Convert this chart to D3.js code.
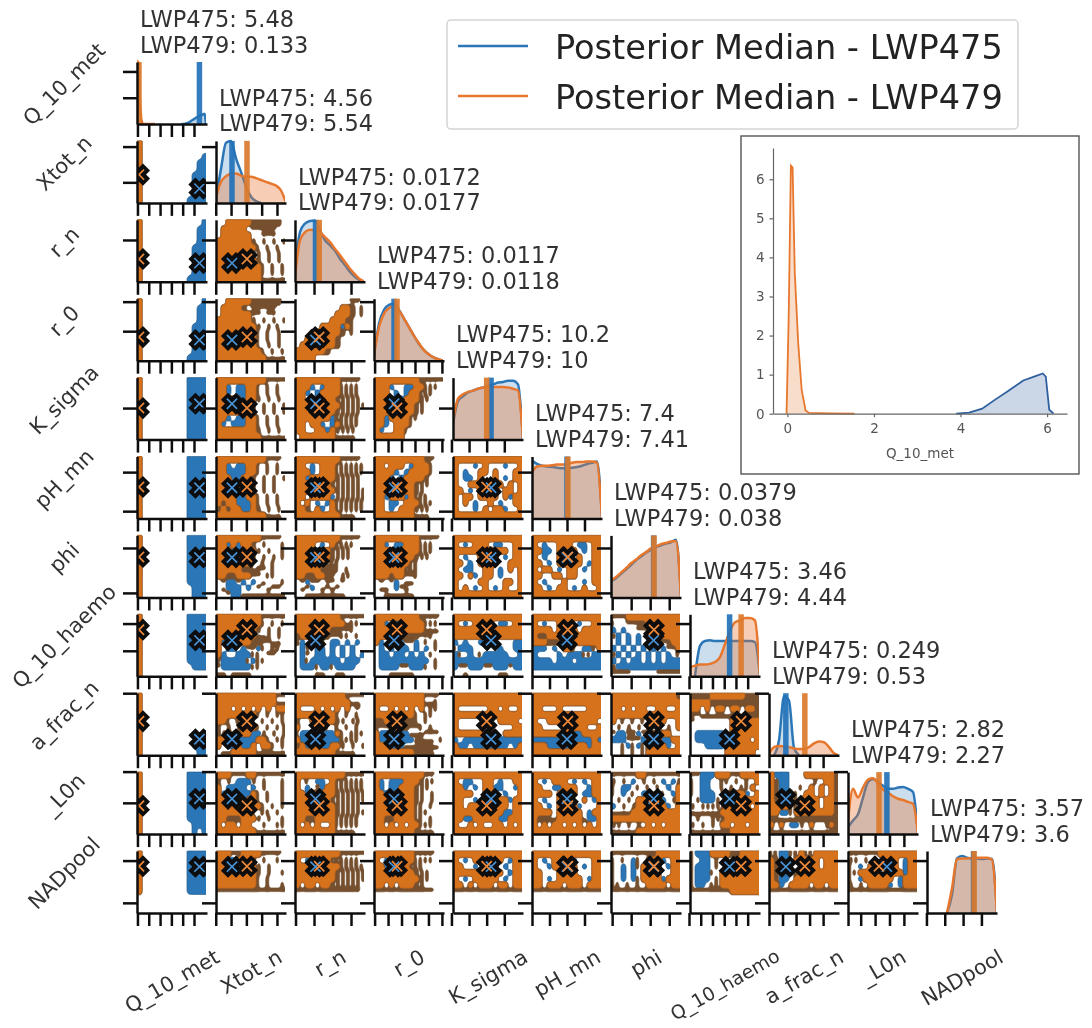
<!DOCTYPE html>
<meta charset="utf-8">
<style>
body { margin: 0; background: #fff; }
text { font-family: "DejaVu Sans", sans-serif; fill: #333; }
.spine path, .spine line { stroke: #111; stroke-width: 2.5; }
.inset path, .inset line { stroke: #666; stroke-width: 1.2; }
.inset text { fill: #555; font-size: 13.5px; font-family: "DejaVu Sans", sans-serif; }
</style>
<body>
<svg width="1092" height="1028"></svg>
<script src="https://d3js.org/d3.v7.min.js"></script>
<script>

var varNames = ["Q_10_met", "Xtot_n", "r_n", "r_0", "K_sigma", "pH_mn", "phi", "Q_10_haemo", "a_frac_n", "_L0n", "NADpool"];
var median475 = [5.48, 4.56, 0.0172, 0.0117, 10.2, 7.4, 0.0379, 3.46, 0.249, 2.82, 3.57];
var median479 = [0.133, 5.54, 0.0177, 0.0118, 10, 7.41, 0.038, 4.44, 0.53, 2.27, 3.6];

// axis ranges: value at left/right of a column, at bottom/top of a row
var xDomains = [[-0.04, 6.15], [3.515, 8.09], [0.01443, 0.02389], [0.01103, 0.01337], [8.47, 11.65], [7.0, 7.8],
  [0.0267, 0.0451], [0.085, 6.05], [0, 1.035], [0.118, 4.98], [1.03, 4.85]];
var yDomains = [[0, 5.9], [3.56, 7.9], [0.01494, 0.02244], [0.011, 0.0131], [8.55, 11.4], [7.006, 7.8],
  [0.029, 0.0428], [0.16, 5.85], [0, 0.97], [0, 4.96], [0.28, 4.68]];
var xTicks = [[0, 1, 2, 3, 4, 5], [3.5, 4.5, 5.5, 6.5, 7.5], [0.0145, 0.017, 0.0195, 0.022],
  [0.01105, 0.0115, 0.01195, 0.0124, 0.01285, 0.0133], [8.4, 9.2, 10, 10.8], [7, 7.2, 7.4, 7.6],
  [0.027, 0.032, 0.037, 0.042], [0, 1, 2, 3, 4, 5], [0, 0.2, 0.4, 0.6, 0.8], [0.12, 1, 2, 3, 4], [1, 2, 3, 4]];
var yTicks = [[2.5, 5], [5, 7.5], [0.02], [0.012, 0.013], [10], [7.1, 7.6], [0.03, 0.04], [2.5, 5], [0.97], [2.5, 5], [1, 4]];

// Q_10_met densities, also used for the inset
var metX475 = [3.9, 4.2, 4.5, 4.8, 5.1, 5.45, 5.7, 5.9, 5.97, 6.05, 6.15];
var metY475 = [0, 0.03, 0.13, 0.36, 0.58, 0.85, 0.95, 1.03, 0.95, 0.1, 0];
var metX479 = [-0.02, 0.03, 0.08, 0.12, 0.17, 0.25, 0.33, 0.42, 0.5, 1, 1.55];
var metY479 = [0, 2.5, 6.35, 6.3, 3.6, 1.8, 0.6, 0.08, 0.02, 0.01, 0];

// relative densities on the diagonal, 15 even steps over the column's range
var kde475 = [null,
  [.05, .55, .97, 1, .72, .5, .27, .1, .03, 0, 0, 0, 0, 0, 0],
  [.2, .8, .94, .98, .99, .83, .67, .59, .5, .37, .27, .16, .08, .02, 0],
  [.08, .6, .82, .9, .92, .82, .68, .54, .4, .27, .17, .1, .05, .02, 0],
  [.25, .62, .7, .76, .79, .82, .84, .87, .89, .92, .93, .95, .95, .89, 0],
  [.93, .88, .85, .84, .83, .82, .81, .81, .82, .83, .85, .88, .9, .92, 0],
  [.26, .31, .38, .45, .52, .6, .66, .72, .77, .81, .84, .87, .89, .93, 0],
  [0, 0, .49, .57, .58, .57, .57, .57, .57, .57, .57, .57, .57, .55, 0],
  [0, 0, .24, .95, .88, .12, 0, 0, 0, 0, 0, 0, 0, 0, 0],
  [.11, .22, .32, .59, .84, .89, .84, .78, .73, .73, .75, .76, .73, .68, 0],
  [0, 0, 0, 0, 0, .3, .88, .92, .89, .88, .88, .87, .88, .87, 0]];
var kde479 = [null,
  [.09, .34, .43, .47, .475, .44, .42, .42, .4, .37, .34, .31, .28, .2, 0],
  [.08, .67, .8, .84, .83, .8, .72, .64, .53, .43, .32, .21, .12, .04, 0],
  [.1, .54, .76, .85, .88, .81, .68, .54, .4, .28, .17, .1, .05, .02, 0],
  [.3, .66, .73, .77, .79, .82, .84, .85, .85, .85, .85, .84, .82, .79, 0],
  [.75, .84, .85, .85, .86, .87, .87, .88, .9, .91, .91, .92, .92, .9, 0],
  [.28, .33, .4, .47, .55, .61, .68, .73, .79, .82, .86, .88, .9, .91, 0],
  [.15, .17, .19, .19, .2, .23, .31, .52, .73, .87, .9, .94, .94, .9, 0],
  [.02, .13, .15, .14, .13, .11, .1, .1, .13, .19, .22, .21, .13, .03, 0],
  [.22, .73, .59, .75, .88, .9, .82, .72, .67, .61, .57, .55, .52, .49, 0],
  [0, 0, 0, 0, 0, .4, .87, .88, .88, .89, .89, .89, .89, .86, 0]];

// contour cells, top row first.
// . empty, o orange, b blue, d brown; thin brown lines: s left, z right, h top, u bottom of the cell
var pairRow1 = [
  "o............. o............. o............b o...........bb o...........bb o..........bbb o..........bbb o..........bbb o..........bbb o.........bbbb"];
var pairRow2 = [
  "o............b o...........bb o...........bb o...........bb o..........bbb o..........bbb o..........bbb o..........bbb o..........bbb o.........bbbb",
  "..ooooodddddd. .ooooo.hhhhh.. .oooooo..hhh.. oooooooz.z.z.z oooooooos.s.s. ooooooobz.z.z. ooooooooz.z.z. ooooooooos.s.s ooooooooos.s.s ooooooooouuuuu"];
var pairRow3 = [
  "o............b o...........bb o...........bb o...........bb o..........bbb o..........bbb o..........bbb o..........bbb o..........bbb o.........bbbb",
  "..ooooodddddd. .ooood.hhhhh.. .oooooohh.hh.. oooooooz.z.z.z ooooooooz.z.s. oooooooos.s.z. oooooooos.s.z. oooooooos.z.z. ooooooooos.s.s oooooooooouuuu",
  "...........hh. .........ood.s ........oood.s .......ooods.. .....oooobos.. ...ooooood.s.. ..ooooood..... .oooooood..... ooooood....... oooo.........."];
var pairRow4 = [
  "o.........bbbb o.........bbbb o.........bbbb o.........bbbb o.........bbbb o.........bbbb o.........bbbb o.........bbbb o.........bbbb o.........bbbb",
  "oooooooooohhhh oob.bboos.s.s. oob.bboos.s.s. ooooobooz.z.z. oooooooz.z.z.z oooooooz.z.z.z oob.bboos.s.s. ob.bbboos.s.s. ooooooooz.z.z. ooooooooouuuuu",
  "ooooooooohhhh. ooob.booossss. oob.boooossss. oo.boooozzzzz. ooooooooozzzzz oooooooozzzzz. ooooooobsssss. oo.oob.bossss. oo..oobozzzz.. .ooooooouuuu..",
  "ooooooooohhhhh ooob..bboosss. ooo.b.boosss.. oooobbooozz... oooooooozz.... ooob.ooozz.... oobooooss..... oob.ooos...... ob..oos....... oooooo........"];
var pairRow5 = [
  "o.........bbbb o.........bbbb o.........bbbb o.........bbbb o.........bbbb o.........bbbb o.........bbbb o.........bbbb o.........bbbb o.........bbbb",
  "oooooooooohhh. oob.bboos.s.s. oobbbboos.s.s. ooobbooz.z.z.z oooooooz.z.z.. oooooooz.z.z.. oooobboos.s.s. ozoobbbos.s.s. zozoobboz.z.z. oooooooooouuu.",
  "ooooooooohhhh. oo.b.ooossssss ooob.ooossssss oobooooozzzzz. ooooooozzzzzz. oooooooozzzzzz oo.oooobzzzzzz o.o.b.bossssss ood.ob.ossssss ooooooooouuu..",
  "oooooooooohh.. oo.ooo.booos.. oooob.boooos.. ooob.booooz... oooooooozzz... oooooooozz.... oobooobosss... oo.bb.ooosss.. oo.b.ooozzz... oooooooouuu...",
  "oooooooooooooo o...b.o...b..o o.b..oo.o...oo o.bb.o..o.b.oo o..ooooooo.o.o oo.b.oooo.oo.o o.oo.oooo.oboo o.o.b..o.b..oo o...b.o.oob..o oooooooooooooo"];
var pairRow6 = [
  "o.........bbbb o.........bbbb o.........bbbb o.........bbbb o.........bbbb o.........bbbb o.........bbbb o.........bbbb o..........bbb o..........bbb",
  "ooooooooohhhh. oobobooz.z...s ooobbbooz.z..s oooooooz.z.z.s ooooooos.s.s.. ooooouuuhh.s.. oouuooohh.ss.. .hbbhb.b.u...s .ubbb.b.h.uhh. ..hbbuuuuuuuuu",
  "ooooooooohhhh. oooo.b.ossss.. ooobboozzzz... ooooooozzzz... oooooosss..... ooooohhhs.s... oouuoohh.zz... .hbhh.hh.h.... .uhb.uhuh..... ..uuuuuuuu....",
  "ooooooooohhhh. oob.bbooosss.. ooooboooosss.. oooooooozzz... oooooooss..... oooooosss..... ooohoohhs..... .h.hb.uu...... .uu.bhu....... ..uuuuuu......",
  "oooooooooooooo o.b.ooo.bb..oo ooooooooooo.oo o.b..oooo.b.oo oo.b.oooo..ooo o.bb..oo.b.o.o oo.ob.oo.b...o o....oo...oo.o o.o.b.o.b.o..o oooooooooooooo",
  "oooooooooooooo o.b..ooo.bb.oo oobb.oooo.b.oo o.b..ooo.o..oo oo.b.ooooo.boo o.oo.b.oo.b.oo oo..oo.oo...oo o.b...o...b.oo oo.b.oo.b.o..o oooooooooooooo"];
var pairRow7 = [
  "o.........bbbb o.........bbbb o.........bbbb o.........bbbb o.........bbbb o.........bbbb o.........bbbb o.........bbbb o..........bbb o.............",
  "ooooooooohhhhh ooooooooos.s.s ooooooooz.z.z. oooooooouuz.z. ob.booouuhhuu. o.bb.bhhbs.ss. ob..bbbss.hh.. hbbbbbsbss.... hbbbbbbss..... uu.uuuu.......",
  "ooooooooohhhhh oooooooooouss. ooooooouuhhs.. uoooouuhhss.s. ub.uuu.bb.b.b. .bh.bb.b.b.b.. .bh.bb.b.b.b.b .bsbbbbbb.bbb. .bbbsbbsbbbb.. ....uu..uu....",
  "ooooooooohhhh. oob.bboooosss. oooooooooouuu. oooooouuuhhs.. ob.oobhhb.s.s. .b.b.bb.b.b.s. .bb.bb.b.b.s.. .bbbbbbbbbb.s. .bbbbhhbbbs.s. ...uuuuu......",
  "oooooooooooooo o.b.oooo.bb.oo oooooooooooooo oooooooooooooo b.b..bb.....bb sbbb.....b..bb bs.b.sbbbbb..b bbbbbbbbbbbbbb bhhbbbhhbbbhbb ..u......uu...",
  "oooooooooooooo o.b..ooo.b..oo oooo.oooo.oooo ouuooooooooooo ooouuuoooooooo bbb.b.oos.bbso b....b.bbbssbb bbbb.bbb.bbbbb bbbbbbbbbbbbbb ..............",
  "hhhooooooooooo s..hhhhooooooo b.b..hhhoooooo zb.b.b.hhhoooo .b.b.b.b.hhhoo b.b.b.b.b.bhho zb.b.b.b.b.b.s b.b.bb.b.b.bbb zbbbbbbbbbbbbb hhhh.....hhhhh"];
var pairRow8 = [
  "o............. o............. o............. o............. o............. o............. o............b o...........bb o..........bbb o...........bb",
  "oooooooooooohh oooooooooooouu ooo.o.o.o.o.oo oooooooos.s.ss oos.soos.s.s.s z.z.zooos.s.sz zzozzoobbz.z.z oobbbbbboos.ss o.bbobbo.oos.s .uuooooouuuuuu",
  "oooooooooohhhh ooooooooooouu. o...o.o.o.o.h. oooooooos.s.s. z..ooooozz.zz. o...oos.s.s.s. sbbbbbbbos.sss obbbbbbbbssss. zob.obbooz.z.z oooooooouuuu..",
  "oooooooooohhh. oooooooooouus. o..o.o.o.o.ss. oooooooos.ss.. hhoooouus.s... hhhoouuhhs.s.. obbbbbbuuuhhh. obbbbbbbuuuu.s ooobbbuuuuuuu. oooooooouuuu..",
  "oooooooooooooo oooooooooooooo o......oo.o..o oooooooooooooo o........oooo. o...........oo ooooooooo.oooo b.bbbbb.bbbbbb obb.bbbbbbb.bo oooooooooooooo",
  "oooooooooooooo oooooooooooooo oo...o.....ooo oooooooooooooo o..oooooooooo. oo.....oooo..o oooooooobboooo bbbbbbbbbbbbob ooobbbbboooboo oooooooooooooo",
  "oooooooooooooh oooooooooooooo oo.o.oo..oo..o oooooooooooooo o.s.s.s.s.o..o .z.z.z.z.z.z.o hbbhhbhhhhoo.. bbbhhhbhhobboo ..sbsbssooob.o ..s.s.sooooooo",
  "ddddoooooooddd oooodddddddddd oo.o.oo.oo.ood hhuuuuuuuuuuuh h.......ooooood ........ooooood .bbbbbb.oooooo .bbbbbbboooo.o ...bbbbooooooo .......oooooo."];
var pairRow9 = [
  "o.........bbbb o.........bbbb o.........bbbb o.........bbbb o.........bbbb o.........bbbb o.........bbbb o.........bbbb o..........bbb o..........b.b",
  "ooohhhoohhhhhh z.z.bbbz.z...s o.bbbb.b.z...s ob.bbbbos.s..s oooobboos.s..s ooooooooos.s.s ooooooos.ss.s. oouuuoooz.z..s o.oo.oo..z..ss oooooooouuuuuu",
  "oooooooooohhhh o.s.bb.ossssss o.b.hboossssss oobooooozzzzzz ooooooozzzzzzz oooooooozzzzz. oooooooozzzzzz oouuoooosssss. o.o.o..osssss. oooooooouuuu..",
  "oooooooooohh.. ob.bbbooozzz.. ob.bbooozzz... oobboooozz.z.. oooooooozz.z.. ooooooooss.s.. oooooooosss... oouuooooss.s.. oo.o.o.oosss.. oooooooouuuu..",
  "oooooooooooooo o.bb..oo.b..oo oob.b.oobb..bo oooo..ooo.b..o oo..b.oooooboo oo.oooooooo.oo oooooooooobboo oobbooooobbooo o..o.o..oo.o.o oooooooooooooo",
  "oooooooooooooo o.b.ooo.b.b.oo oo..bbooo..boo oooo.oooo.bboo o.b..oo...o.bo oo.b.oooob...o oooo.ooooo.boo ouuuuoooooubbo o.o.oo.o.o.o.o oooooooooooooo",
  "hhhhhoohhhhhhh z.z.b.z.z.b.bz s.bb.s.s.s.b.o s.b.s.bb.bs.bo .z.z.ooooob.zo b.z.zoo.ooob.o uuuuoooooooooo oooooooooooooo zz.z.z.o.o.ooo uuuuuooooooooo",
  "hhbbbooohhoooo s.bb..ss.s.s.o s.bb..s.s.sso. s.bbb.zzooob.o .zbbbz.zzooooo z.zzzzzooooo.o uuuuuuoooooooo .z..zzzooooooo z.z.z.oo.oo.oo uuuuuuuuoooooo",
  "obbb...ooooood ozbb.....s.ood ozbb..s.o.o.od ozbb.s.oo.o.od ozbbssoooo.ood oooosssooo.ood oobbsooooooood uuuuuuuuuuuuuu o.o.bbz.o..zod uuuuuuuuuuuuuu"];
var pairRow10 = [
  "o.........bbbb o.........bbbb o.........bbbb o.........bbbb o.........bbbb o.........bbbb o.........bbbb",
  "ooohhoooohhhh. oobboooz.z..s. ooobboooz.z... ooooooooz.z..s oooooooos.s... oooooooos.s..s hhhhhhhhhhhhhh",
  "ooooooooohhhhh o.b.ooossssss. ooooooooosssss oooooooozzzzzz oooooooozzzzzz o.oo.oozzzzzz. hhhhhhhhhhhhh.",
  "oooooooohhhh.. o.booooossss.. oob.ooosss.... oooooooozzz... ooooooooozz... oo.o.ooozz.... hhhhhhhhhhhh..",
  "oooooooooooooo o.b.ooo..o.boo oo..b.ooo.b.oo oooooooooo.boo o.b.ooooo.b.oo oo.o.ooo.oo.oo hhhhhhhhhhhhhh",
  "oooooooooooooo o.b.ooo.b...oo o..booooo.b.oo oo...oooo...oo oo.b.ooooo.boo oo.ooo.ooo.ooo hhhhhhhhhhhhhh",
  "hhhhhhhhhooooo s.s.bs.ooob.oo s.b.bsoooo.boo s.b.b.oooo..oo s.b.bsoooobooo ss.s.s.oooo.oo hhhhhhhhhhhhhh",
  "sbbbooooddoooo s.bb.s.s.ooooo sbbb.s.ooooooo sbbbs.oooooooo sbbb.soooooooo sbb.ssoooooooo hhhhhhhhoooooo",
  "ssbbssossooooo ozbb.ooooo.ooo ozbb..oooo.ooo ozbbbsoooooooo ozbb.ooooooooo oob.oooo.oo.oo hhhhhhhhhhhhhh",
  "hhhhhhoooooooo zz.z.b.ooo.boo s.b.oooooo.boo ssooooooooobooo s.boooooo.booo z.z.oooob.booo hhhhhhhhhhhhhh"];
var pairRows = [[], pairRow1, pairRow2, pairRow3, pairRow4, pairRow5, pairRow6, pairRow7, pairRow8, pairRow9, pairRow10];

var colBlue = "#2b76b6", colOrange = "#e8772e", colFill = "#d6711d", colBrown = "#74502f", colBlueLine = "#285f8f";

var svg = d3.select("svg");
var root = svg.append("g").attr("filter", "url(#soft)");
var defs = svg.append("defs");
defs.append("filter").attr("id", "soft").attr("filterUnits", "userSpaceOnUse")
  .attr("x", 0).attr("y", 0).attr("width", 1092).attr("height", 1028)
  .append("feGaussianBlur").attr("stdDeviation", 0.45);

var colStep = 79, rowStep = 78.9, panelW = 70, panelH = 62;
var colLeft = function(j) { return 137 + j * colStep; };
var rowBottom = function(i) { return 124 + i * rowStep; };

var xScales = varNames.map(function(d, j) {
  return d3.scaleLinear().domain(xDomains[j]).range([colLeft(j), colLeft(j) + panelW]);
});
var yScales = varNames.map(function(d, i) {
  return d3.scaleLinear().domain(yDomains[i]).range([rowBottom(i), rowBottom(i) - panelH]);
});

// one clip per column, so markers get cut at the axes like the original
varNames.forEach(function(d, j) {
  defs.append("clipPath").attr("id", "col" + j).append("rect")
    .attr("x", colLeft(j)).attr("y", 0).attr("width", panelW - 1).attr("height", 1028);
});

// which part of a 6x6 cell each code covers; s and z share a column so wavy lines stay joined
var cellMask = {
  o: function() { return 1; }, b: function() { return 1; }, d: function() { return 1; },
  s: function(u, v) { return u < 3 ? 1 : 0; },
  z: function(u, v) { return u >= 2 && u < 5 ? 1 : 0; },
  h: function(u, v) { return v < 3 ? 1 : 0; },
  u: function(u, v) { return v >= 3 ? 1 : 0; }
};

// contour a cell grid: the cells matching chars become 1, get blurred, then traced
function traceCells(cells, chars, level, rx, ry, sx, sy) {
  var up = 6, nx = 14, ny = 10, w = nx * up, h = ny * up;
  var data = new Float64Array(w * h);
  for (var yy = 0; yy < h; yy++) for (var xx = 0; xx < w; xx++) {
    var row = cells[Math.floor(yy / up)] || "";
    var c = row[Math.floor(xx / up)] || ".";
    data[yy * w + xx] = chars.indexOf(c) >= 0 ? cellMask[c](xx % up, yy % up) : 0;
  }
  d3.blur2({data: data, width: w, height: h}, rx, ry);
  var contours = d3.contours().size([w, h]).thresholds([level])(data);
  var gx = d3.scaleLinear().domain([0, w]).range(sx.range());
  var gy = d3.scaleLinear().domain([0, h]).range([sy.range()[1], sy.range()[0]]);
  var path = d3.geoPath(d3.geoTransform({point: function(x, y) { this.stream.point(gx(x), gy(y)); }}));
  return path(contours[0]) || "";
}

// pair panels
d3.range(1, 11).forEach(function(i) {
  d3.range(0, i).forEach(function(j) {
    var cells = pairRows[i][j].split(" ");
    var g = root.append("g").attr("clip-path", "url(#col" + j + ")");
    g.append("path").attr("d", traceCells(cells, "b", 0.5, 1.4, 1.4, xScales[j], yScales[i]))
      .attr("fill", colBlue).attr("stroke", colBlueLine).attr("stroke-width", 0.8);
    g.append("path").attr("d", traceCells(cells, "odszhu", 0.4, 0.7, 1.3, xScales[j], yScales[i]))
      .attr("fill", colBrown).attr("stroke", colBrown).attr("stroke-width", 0.7);
    g.append("path").attr("d", traceCells(cells, "o", 0.5, 1.3, 1.3, xScales[j], yScales[i]))
      .attr("fill", colFill).attr("stroke", "#b8651f").attr("stroke-width", 0.8);
    g.selectAll(".mark").data([median475, median479]).enter().append("path")
      .attr("transform", function(d) { return "translate(" + xScales[j](d[j]) + "," + yScales[i](d[i]) + ")"; })
      .attr("d", d3.symbol().type(d3.symbolX).size(150))
      .attr("stroke", "#0b0b0b").attr("stroke-width", 10).attr("fill", "none");
    g.selectAll(".mark2").data([[median475, "#4a93d6"], [median479, "#f08a3a"]]).enter().append("path")
      .attr("transform", function(d) { return "translate(" + xScales[j](d[0][j]) + "," + yScales[i](d[0][i]) + ")"; })
      .attr("d", d3.symbol().type(d3.symbolX).size(70))
      .attr("stroke", function(d) { return d[1]; }).attr("stroke-width", 1.7).attr("fill", "none");
  });
});

// diagonal densities
varNames.forEach(function(name, k) {
  var x = xScales[k];
  var g = root.append("g").attr("clip-path", "url(#col" + k + ")");
  if (k === 0) {
    var y0 = d3.scaleLinear().domain([0, 6.4]).range([rowBottom(0), rowBottom(0) - panelH]);
    var line0 = d3.line().x(function(d) { return x(d[0]); }).y(function(d) { return y0(d[1]); });
    var area0 = d3.area().x(function(d) { return x(d[0]); }).y0(y0(0)).y1(function(d) { return y0(d[1]); });
    [[d3.zip(metX475, metY475), colBlue], [d3.zip(metX479, metY479), colOrange]].forEach(function(s) {
      g.append("path").attr("d", area0(s[0])).attr("fill", s[1]).attr("fill-opacity", 0.3);
      g.append("path").attr("d", line0(s[0])).attr("fill", "none").attr("stroke", s[1]).attr("stroke-width", 2.5);
    });
  } else {
    var y = d3.scaleLinear().domain([0, 1]).range([rowBottom(k), rowBottom(k) - panelH]);
    var stepX = d3.scaleLinear().domain([0, 14]).range(xDomains[k]);
    var line = d3.line().curve(d3.curveMonotoneX)
      .defined(function(d, n, a) { return d > 0 || a[n - 1] > 0 || a[n + 1] > 0; })
      .x(function(d, n) { return x(stepX(n)); }).y(function(d) { return y(d); });
    var area = d3.area().curve(d3.curveMonotoneX).x(function(d, n) { return x(stepX(n)); }).y0(y(0)).y1(function(d) { return y(d); });
    [[kde475[k], colBlue, 0.24], [kde479[k], colOrange, 0.36]].forEach(function(s) {
      g.append("path").attr("d", area(s[0])).attr("fill", s[1]).attr("fill-opacity", s[2]);
      g.append("path").attr("d", line(s[0])).attr("fill", "none").attr("stroke", s[1]).attr("stroke-width", 2.5);
    });
  }
  [[median475[k], "#2272b8"], [median479[k], "#dc7a2c"]].forEach(function(m) {
    g.append("line").attr("x1", x(m[0])).attr("x2", x(m[0]))
      .attr("y1", rowBottom(k)).attr("y2", rowBottom(k) - panelH)
      .attr("stroke", m[1]).attr("stroke-width", 5.5).attr("stroke-opacity", 0.93);
  });
  root.append("text").attr("x", colLeft(k) + 3).attr("y", 26.7 + k * rowStep)
    .style("font-size", "22.5px").text("LWP475: " + median475[k]);
  root.append("text").attr("x", colLeft(k) + 3).attr("y", 52.5 + k * rowStep)
    .style("font-size", "22.5px").text("LWP479: " + median479[k]);
});

// spines and ticks for every panel
d3.range(0, 11).forEach(function(i) {
  d3.range(0, i + 1).forEach(function(j) {
    root.append("g").attr("class", "spine").attr("transform", "translate(0," + rowBottom(i) + ")")
      .call(d3.axisBottom(xScales[j]).tickValues(xTicks[j]).tickSize(13).tickSizeOuter(0).tickFormat(""));
    root.append("g").attr("class", "spine").attr("transform", "translate(" + colLeft(j) + ",0)")
      .call(d3.axisLeft(yScales[i]).tickValues(yTicks[i]).tickSize(14).tickSizeOuter(0).tickFormat(""));
  });
});

// variable labels
varNames.forEach(function(name, k) {
  root.append("text").attr("text-anchor", "middle").attr("dy", "0.35em")
    .attr("transform", "translate(64," + (rowBottom(k) - 40) + ") rotate(-45)")
    .style("font-size", "21px").text(name);
  // the longest one would run off the bottom edge at full size
  var size = name === "Q_10_haemo" ? 18.8 : 20.8;
  var t = root.append("text").attr("text-anchor", "middle").attr("dy", "0.35em").style("font-size", size + "px").text(name);
  var half = t.node().getComputedTextLength() / 2 * Math.sin(Math.PI / 6) + size * 0.43;
  t.attr("transform", "translate(" + (colLeft(k) + 35) + "," + (946 + half) + ") rotate(-30)");
});

// legend
root.append("rect").attr("x", 447).attr("y", 20).attr("width", 571).attr("height", 109).attr("rx", 4)
  .attr("fill", "#fff").attr("stroke", "#d4d4d4").attr("stroke-width", 1.5);
[["Posterior Median - LWP475", colBlue], ["Posterior Median - LWP479", colOrange]].forEach(function(d, n) {
  root.append("line").attr("x1", 458).attr("x2", 528).attr("y1", 46 + n * 50).attr("y2", 46 + n * 50)
    .attr("stroke", d[1]).attr("stroke-width", 2.5);
  root.append("text").attr("x", 555).attr("y", 59 + n * 50).style("font-size", "33.6px").style("fill", "#222").text(d[0]);
});

// inset
root.append("rect").attr("x", 741).attr("y", 136).attr("width", 338).attr("height", 338)
  .attr("fill", "#fff").attr("stroke", "#555").attr("stroke-width", 1.4);
var insetX = d3.scaleLinear().domain([-0.333, 6.46]).range([773, 1067]);
var insetY = d3.scaleLinear().domain([0, 6.8]).range([413.7, 148]);
var insetLine = d3.line().x(function(d) { return insetX(d[0]); }).y(function(d) { return insetY(d[1]); });
var insetArea = d3.area().x(function(d) { return insetX(d[0]); }).y0(insetY(0)).y1(function(d) { return insetY(d[1]); });
[[d3.zip(metX475, metY475), "#2f5f9f"], [d3.zip(metX479, metY479), colOrange]].forEach(function(s) {
  root.append("path").attr("d", insetArea(s[0])).attr("fill", s[1]).attr("fill-opacity", 0.25);
  root.append("path").attr("d", insetLine(s[0])).attr("fill", "none").attr("stroke", s[1]).attr("stroke-width", 1.8);
});
root.append("g").attr("class", "inset").attr("transform", "translate(0,413.7)")
  .call(d3.axisBottom(insetX).tickValues([0, 2, 4, 6]).tickSize(3.5).tickSizeOuter(0).tickPadding(6).tickFormat(d3.format("d")));
root.append("g").attr("class", "inset").attr("transform", "translate(773,0)")
  .call(d3.axisLeft(insetY).tickValues([0, 1, 2, 3, 4, 5, 6]).tickSize(3.5).tickSizeOuter(0).tickPadding(5).tickFormat(d3.format("d")));
root.append("text").attr("x", 920).attr("y", 458).attr("text-anchor", "middle")
  .style("font-size", "13.5px").style("fill", "#555").text("Q_10_met");

</script>
</body>
</html>
